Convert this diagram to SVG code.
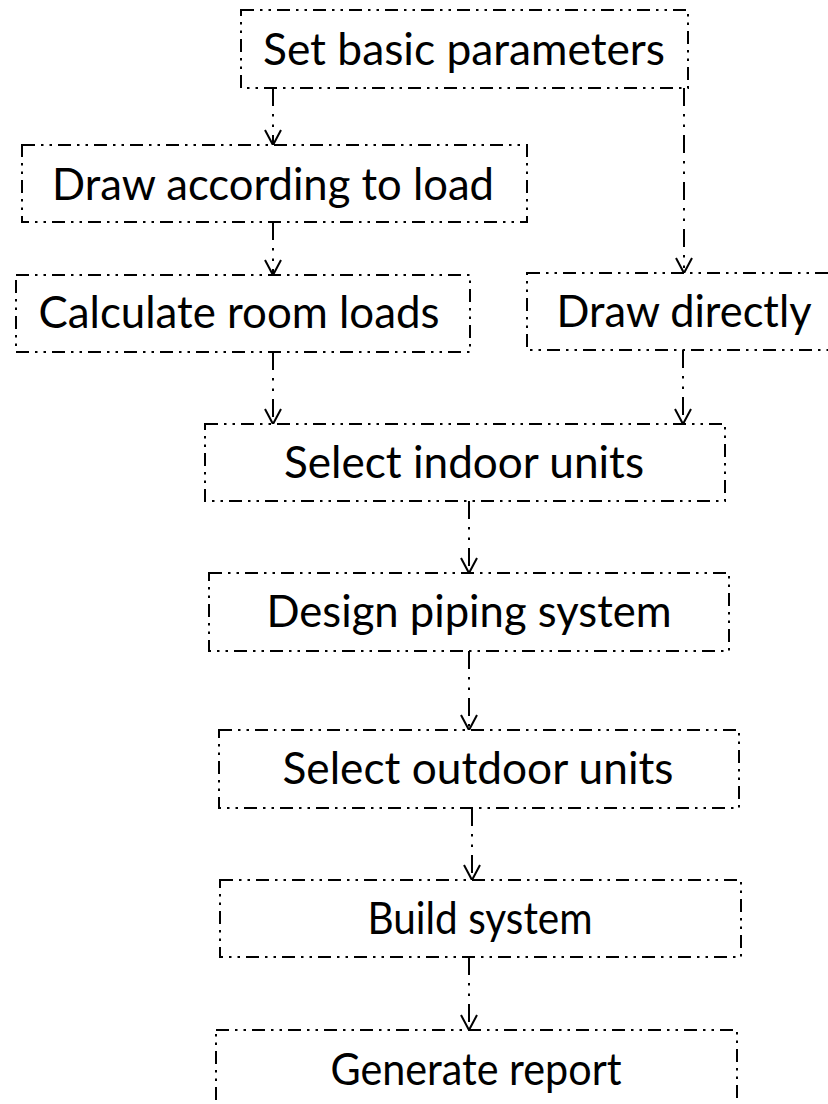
<svg xmlns="http://www.w3.org/2000/svg" width="828" height="1104" viewBox="0 0 828 1104">
<defs>
<marker id="arr" markerUnits="userSpaceOnUse" markerWidth="40" markerHeight="40" refX="0" refY="0" orient="auto" overflow="visible">
<path d="M-15,-8 L0,0 L-15,8" fill="none" stroke="#000" stroke-width="2" stroke-dasharray="none"/>
</marker>
<style>
.box{fill:#fff;stroke:#000;stroke-width:2;stroke-dasharray:13 6 2.5 6 2.5 6;}
.lbl{font-family:Lato,"Open Sans","Noto Sans",sans-serif;font-size:44px;fill:#000;text-anchor:middle;}
.con{fill:none;stroke:#000;stroke-width:2;stroke-dasharray:18 8 2.5 8 2.5 8;marker-end:url(#arr);}
</style>
</defs>
<rect width="828" height="1104" fill="#fff"/>
<g id="connectors">
<line class="con" x1="273" y1="88" x2="273" y2="145"/>
<line class="con" x1="684" y1="88" x2="684" y2="273"/>
<line class="con" x1="273" y1="222" x2="273" y2="275"/>
<line class="con" x1="273" y1="352" x2="273" y2="424"/>
<line class="con" x1="683" y1="350" x2="683" y2="424"/>
<line class="con" x1="469" y1="501" x2="469" y2="573"/>
<line class="con" x1="469" y1="651" x2="469" y2="730"/>
<line class="con" x1="472" y1="808" x2="472" y2="880"/>
<line class="con" x1="469" y1="957" x2="469" y2="1030"/>
</g>
<g id="n1"><rect class="box" x="241" y="10" width="447" height="78"/><text class="lbl" x="464" y="65" textLength="402" lengthAdjust="spacingAndGlyphs">Set basic parameters</text></g>
<g id="n2"><rect class="box" x="22" y="145" width="505" height="77"/><text class="lbl" x="273" y="200" textLength="442" lengthAdjust="spacingAndGlyphs">Draw according to load</text></g>
<g id="n3"><rect class="box" x="16" y="275" width="454" height="77"/><text class="lbl" x="239" y="328" textLength="401" lengthAdjust="spacingAndGlyphs">Calculate room loads</text></g>
<g id="n4"><rect class="box" x="527" y="273" width="320" height="77"/><text class="lbl" x="684" y="327" textLength="255" lengthAdjust="spacingAndGlyphs">Draw directly</text></g>
<g id="n5"><rect class="box" x="205" y="424" width="520" height="77"/><text class="lbl" x="464" y="478" textLength="360" lengthAdjust="spacingAndGlyphs">Select indoor units</text></g>
<g id="n6"><rect class="box" x="209" y="573" width="520" height="78"/><text class="lbl" x="469" y="627" textLength="405" lengthAdjust="spacingAndGlyphs">Design piping system</text></g>
<g id="n7"><rect class="box" x="219" y="730" width="520" height="78"/><text class="lbl" x="478" y="784" textLength="391" lengthAdjust="spacingAndGlyphs">Select outdoor units</text></g>
<g id="n8"><rect class="box" x="220" y="880" width="521" height="77"/><text class="lbl" x="480" y="934" textLength="225" lengthAdjust="spacingAndGlyphs">Build system</text></g>
<g id="n9"><rect class="box" x="216" y="1030" width="521" height="90"/><text class="lbl" x="476" y="1085" textLength="291" lengthAdjust="spacingAndGlyphs">Generate report</text></g>
</svg>
